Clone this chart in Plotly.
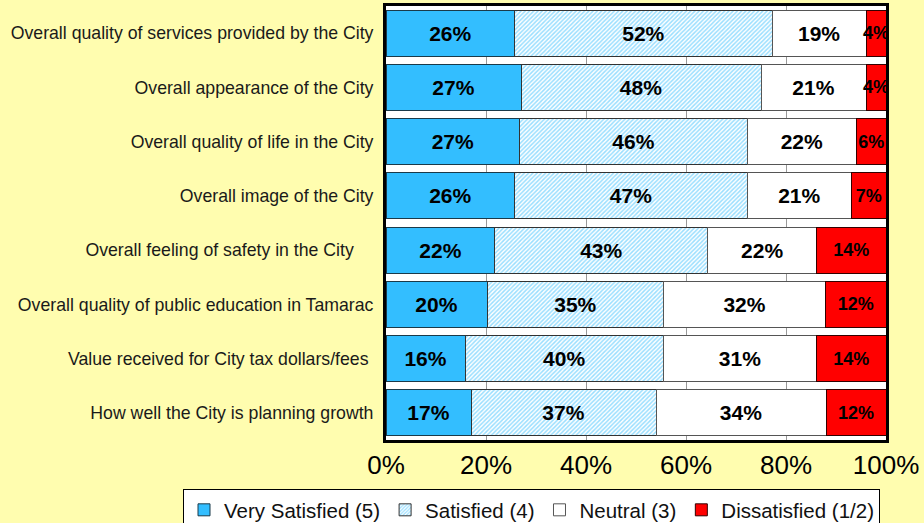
import plotly.graph_objects as go

categories = [
    "Overall quality of services provided by the City",
    "Overall appearance of the City",
    "Overall quality of life in the City",
    "Overall image of the City",
    "Overall feeling of safety in the City    ",
    "Overall quality of public education in Tamarac",
    "Value received for City tax dollars/fees ",
    "How well the City is planning growth",
]
very_satisfied = [26, 27, 27, 26, 22, 20, 16, 17]
satisfied = [52, 48, 46, 47, 43, 35, 40, 37]
neutral = [19, 21, 22, 21, 22, 32, 31, 34]
dissatisfied = [4, 4, 6, 7, 14, 12, 14, 12]
series_names = ["Very Satisfied (5)", "Satisfied (4)", "Neutral (3)", "Dissatisfied (1/2)"]
x_ticks = [0, 20, 40, 60, 80, 100]
x_tick_labels = ["0%", "20%", "40%", "60%", "80%", "100%"]

FONT = "Liberation Sans, Arial, Helvetica, sans-serif"
BLUE = "#33BEFF"

fig = go.Figure()

def add(vals, name, color, line_color, size, pattern=None):
    marker = dict(color=color, line=dict(color=line_color, width=1))
    if pattern:
        marker["pattern"] = pattern
    fig.add_trace(go.Bar(
        y=categories, x=vals, name=name, orientation="h",
        marker=marker,
        text=[f"{v}%" for v in vals],
        textposition="inside", insidetextanchor="middle",
        constraintext="none", textangle=0,
        textfont=dict(family=FONT, size=size, color="black", weight="bold"),
        hoverinfo="skip",
    ))

add(very_satisfied, series_names[0], BLUE, "#1a3a4a", 21)
add(satisfied, series_names[1], "white", "#333333", 21,
    pattern=dict(shape="/", fgcolor=BLUE, bgcolor="white", size=3, solidity=0.5))
add(neutral, series_names[2], "white", "#555555", 21)
add(dissatisfied, series_names[3], "#FF0000", "#330000", 18)

fig.update_layout(
    barmode="stack", barnorm="percent", bargap=0.15,
    width=924, height=523,
    margin=dict(l=386, r=38, t=6, b=83, autoexpand=False),
    paper_bgcolor="#FFFDAF", plot_bgcolor="white",
    font=dict(family=FONT, color="black"),
    showlegend=True,
    legend=dict(
        orientation="h", xref="paper", yref="paper",
        x=(183 - 386) / 500, xanchor="left", y=(440 - 489) / 434, yanchor="top",
        bgcolor="white", bordercolor="black", borderwidth=1,
        font=dict(family=FONT, size=20.5, color="#111111"),
        traceorder="normal", itemclick=False, itemdoubleclick=False,
    ),
    xaxis=dict(
        range=[0, 100], tickvals=x_ticks, ticktext=x_tick_labels,
        showgrid=True, gridcolor="#999999", gridwidth=1,
        showline=True, linecolor="black", linewidth=3, mirror=True,
        ticks="", zeroline=False, ticklabelstandoff=0,
        tickfont=dict(family=FONT, size=26, color="black"),
        fixedrange=True,
    ),
    yaxis=dict(
        autorange="reversed", showgrid=False, showline=True, linecolor="black",
        linewidth=3, mirror=True, ticks="", ticklabelstandoff=6,
        tickfont=dict(family=FONT, size=17.7, color="#1a1a1a"),
        fixedrange=True,
    ),
)

fig.write_html(
    "out.html",
    config={"displayModeBar": False},
    post_script="document.body.style.margin='0';document.body.style.overflow='hidden';",
)
